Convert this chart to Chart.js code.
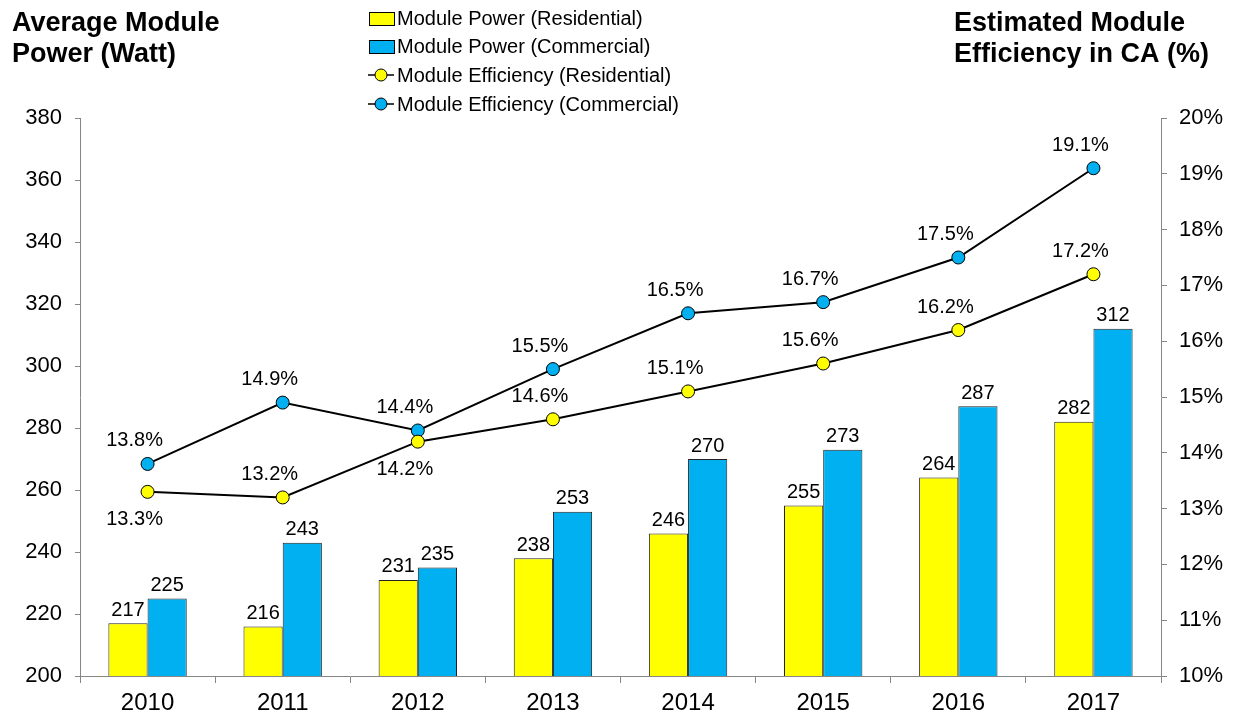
<!DOCTYPE html>
<html>
<head>
<meta charset="utf-8">
<script src="https://cdn.jsdelivr.net/npm/chart.js@4.4.1/dist/chart.umd.min.js"></script>
<style>
  html, body { margin: 0; padding: 0; background: #fff; }
  #wrap { width: 1243px; height: 717px; position: relative; }
</style>
</head>
<body>
<div id="wrap"><canvas id="grafico" width="1243" height="717"></canvas></div>
<script>
// dados
const anos = ['2010', '2011', '2012', '2013', '2014', '2015', '2016', '2017'];
const potenciaResidencial = [217, 216, 231, 238, 246, 255, 264, 282];
const potenciaComercial = [225, 243, 235, 253, 270, 273, 287, 312];
const eficienciaResidencial = [13.3, 13.2, 14.2, 14.6, 15.1, 15.6, 16.2, 17.2];
const eficienciaComercial = [13.8, 14.9, 14.4, 15.5, 16.5, 16.7, 17.5, 19.1];

const tituloEsquerda = ['Average Module', 'Power (Watt)'];
const tituloDireita = ['Estimated Module', 'Efficiency in CA (%)'];

const AMARELO = '#FFFF00';
const AZUL = '#00B0F0';
const CINZA = '#868686';
const FONTE = "'Liberation Sans', Arial, sans-serif";

// posicao dos rotulos das linhas (acima / abaixo do ponto)
const posResidencial = ['below', 'above', 'below', 'above', 'above', 'above', 'above', 'above'];
const posComercial = ['above', 'above', 'above', 'above', 'above', 'above', 'above', 'above'];

// plugin que desenha titulos, legenda e rotulos de dados
const extras = {
    id: 'extras',
    afterDatasetsDraw(chart) {
        const ctx = chart.ctx;
        ctx.save();
        ctx.fillStyle = '#000';
        ctx.textAlign = 'center';

        // rotulos das barras
        ctx.font = '20px ' + FONTE;
        ctx.textBaseline = 'bottom';
        [0, 1].forEach(function (i) {
            let meta = chart.getDatasetMeta(i);
            meta.data.forEach(function (bar, j) {
                ctx.fillText(String(chart.data.datasets[i].data[j]), bar.x, bar.y - 3);
            });
        });

        // rotulos das linhas
        ctx.font = '20px ' + FONTE;
        ctx.textBaseline = 'middle';
        [[2, posResidencial], [3, posComercial]].forEach(function (par) {
            let meta = chart.getDatasetMeta(par[0]);
            meta.data.forEach(function (pt, j) {
                let v = chart.data.datasets[par[0]].data[j];
                let dy = par[1][j] === 'above' ? -23 : 28;
                ctx.fillText(v.toFixed(1) + '%', pt.x - 13, pt.y + dy);
            });
        });
        ctx.restore();
    },
    afterDraw(chart) {
        const ctx = chart.ctx;
        ctx.save();
        ctx.fillStyle = '#000';
        ctx.textBaseline = 'alphabetic';

        // titulos dos eixos
        ctx.font = 'bold 27px ' + FONTE;
        ctx.textAlign = 'left';
        ctx.fillText(tituloEsquerda[0], 12, 31);
        ctx.fillText(tituloEsquerda[1], 12, 62);
        ctx.fillText(tituloDireita[0], 954, 31);
        ctx.fillText(tituloDireita[1], 954, 62);

        // legenda
        ctx.font = '20px ' + FONTE;
        ctx.textBaseline = 'middle';
        const linhasY = [18, 46, 75, 104];
        chart.data.datasets.forEach(function (ds, i) {
            let y = linhasY[i];
            if (ds.type === 'bar') {
                ctx.fillStyle = ds.backgroundColor;
                ctx.fillRect(369, y - 6, 25, 13);
                ctx.strokeStyle = '#000';
                ctx.lineWidth = 1;
                ctx.strokeRect(369.5, y - 5.5, 25, 13);
            } else {
                ctx.strokeStyle = '#000';
                ctx.lineWidth = 1.5;
                ctx.beginPath();
                ctx.moveTo(368, y);
                ctx.lineTo(394, y);
                ctx.stroke();
                ctx.beginPath();
                ctx.arc(381, y, 6, 0, Math.PI * 2);
                ctx.fillStyle = ds.pointBackgroundColor;
                ctx.fill();
                ctx.lineWidth = 1;
                ctx.stroke();
            }
            ctx.fillStyle = '#000';
            ctx.textAlign = 'left';
            ctx.fillText(ds.label, 397, y + 1);
        });
        ctx.restore();
    }
};

let ctx = document.getElementById('grafico').getContext('2d');

let grafico = new Chart(ctx, {
    data: {
        labels: anos,
        datasets: [{
            type: 'bar',
            label: 'Module Power (Residential)',
            data: potenciaResidencial,
            backgroundColor: AMARELO,
            borderColor: '#222',
            borderWidth: 1,
            yAxisID: 'y',
            order: 2,
            categoryPercentage: 0.58,
            barPercentage: 1
        },
        {
            type: 'bar',
            label: 'Module Power (Commercial)',
            data: potenciaComercial,
            backgroundColor: AZUL,
            borderColor: '#222',
            borderWidth: 1,
            yAxisID: 'y',
            order: 2,
            categoryPercentage: 0.58,
            barPercentage: 1
        },
        {
            type: 'line',
            label: 'Module Efficiency (Residential)',
            data: eficienciaResidencial,
            borderColor: '#000',
            borderWidth: 2,
            pointBackgroundColor: AMARELO,
            pointBorderColor: '#000',
            pointBorderWidth: 1,
            pointRadius: 6.5,
            tension: 0,
            yAxisID: 'y1',
            order: 1
        },
        {
            type: 'line',
            label: 'Module Efficiency (Commercial)',
            data: eficienciaComercial,
            borderColor: '#000',
            borderWidth: 2,
            pointBackgroundColor: AZUL,
            pointBorderColor: '#000',
            pointBorderWidth: 1,
            pointRadius: 6.5,
            tension: 0,
            yAxisID: 'y1',
            order: 1
        }]
    },
    options: {
        responsive: false,
        animation: false,
        devicePixelRatio: 1,
        layout: { padding: { top: 118, left: 0, right: 0, bottom: 0 } },
        plugins: {
            legend: { display: false },
            tooltip: { enabled: false }
        },
        scales: {
            x: {
                grid: {
                    display: true,
                    drawOnChartArea: false,
                    drawTicks: true,
                    tickLength: 7,
                    color: CINZA,
                    offset: true
                },
                border: { color: CINZA, width: 1 },
                ticks: { color: '#000', font: { family: FONTE, size: 24 }, padding: 6 },
                afterFit: function (scale) { scale.height = 41; }
            },
            y: {
                position: 'left',
                min: 200,
                max: 380,
                grid: {
                    display: true,
                    drawOnChartArea: false,
                    drawTicks: true,
                    tickLength: 5,
                    color: CINZA
                },
                border: { color: CINZA, width: 1 },
                ticks: { stepSize: 20, color: '#000', font: { family: FONTE, size: 22 }, padding: 13 },
                afterFit: function (scale) { scale.width = 80; }
            },
            y1: {
                position: 'right',
                min: 10,
                max: 20,
                grid: {
                    display: true,
                    drawOnChartArea: false,
                    drawTicks: true,
                    tickLength: 6,
                    color: CINZA
                },
                border: { color: CINZA, width: 1 },
                ticks: {
                    stepSize: 1,
                    color: '#000',
                    font: { family: FONTE, size: 22 },
                    padding: 12,
                    callback: function (v) { return v + '%'; }
                },
                afterFit: function (scale) { scale.width = 82; }
            }
        }
    },
    plugins: [extras]
});
</script>
</body>
</html>
